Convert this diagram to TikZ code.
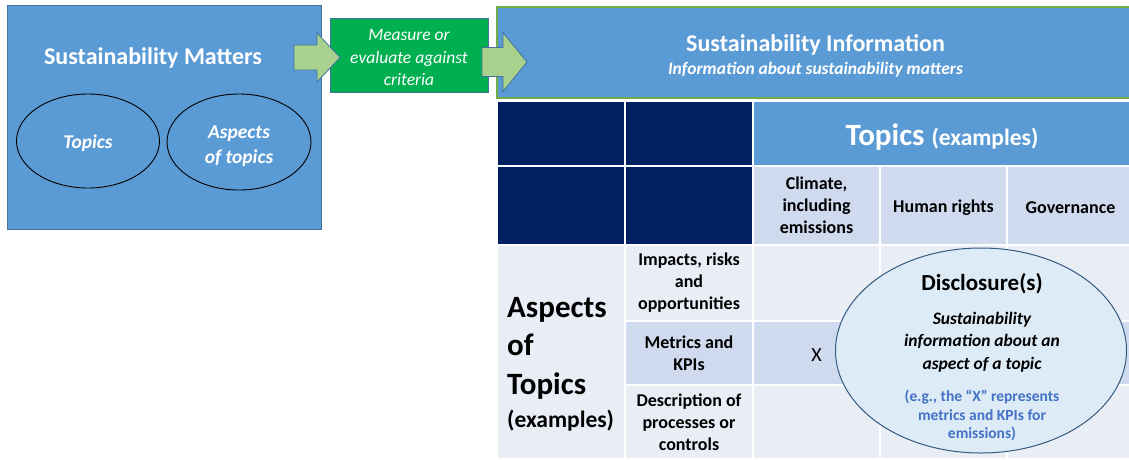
\documentclass[tikz,border=0pt]{standalone}
\usepackage{fontspec}
\setmainfont{Carlito}
\usepackage{tikz}
\usetikzlibrary{shapes.geometric}
\definecolor{matterblue}{HTML}{5B9BD5}
\definecolor{edgeblue}{HTML}{41719C}
\definecolor{navy}{HTML}{002060}
\definecolor{palecell}{HTML}{E9EDF6}
\definecolor{midcell}{HTML}{CFDAEE}
\definecolor{measuregreen}{HTML}{00B050}
\definecolor{arrowgreen}{HTML}{A9D18E}
\definecolor{headgreen}{HTML}{70AD47}
\definecolor{discfill}{HTML}{DDEBF7}
\definecolor{noteblue}{HTML}{4472C4}

\begin{document}
\begin{tikzpicture}[x=1pt,y=-1pt]
    \tikzstyle{every node}+=[inner sep=0pt]
    \tikzstyle{cell}=[rectangle, draw=white, line width=2pt, align=center,
        font=\bfseries\fontsize{18}{22}\selectfont]
    \tikzstyle{celltext}=[align=center, font=\bfseries\fontsize{18}{22}\selectfont]
    \tikzstyle{blockarrow}=[fill=arrowgreen, draw=edgeblue, line width=0.8pt, line join=miter]
    \tikzstyle{oval}=[ellipse, draw=black, line width=0.9pt]
    \tikzstyle{ovaltext}=[text=white, align=center, font=\bfseries\itshape\fontsize{19.5}{25}\selectfont]
    \useasboundingbox (0,0) rectangle (1129,459);
    % left box
    \node [rectangle, fill=matterblue, draw=edgeblue, line width=1pt,
        minimum width=314, minimum height=224] (matters) at (164,117) {};
    \node [text=white, font=\bfseries\fontsize{24}{28}\selectfont] (mattersTitle) at (153,58) {Sustainability Matters};
    \node [oval, minimum width=143, minimum height=94] (topicsOval) at (88,141) {};
    \node [ovaltext] (topicsText) at (88,143) {Topics};
    \node [oval, minimum width=144, minimum height=96] (aspectsOval) at (239,142) {};
    \node [ovaltext] (aspectsOvalText) at (239,146) {Aspects\\of topics};
    % measure box
    \node [rectangle, fill=measuregreen, draw=edgeblue, line width=0.8pt,
        minimum width=158, minimum height=74] (measure) at (409,55) {};
    \node [text=white, align=center, font=\itshape\fontsize{17.5}{22.5}\selectfont] (measureText) at (409,57.5)
        {Measure or\\evaluate against\\criteria};
    % information header
    \node [rectangle, fill=matterblue, draw=headgreen, line width=1.5pt,
        minimum width=637, minimum height=91] (info) at (815.5,52.5) {};
    \node [text=white, font=\bfseries\fontsize{24}{28}\selectfont] (infoTitle) at (815.5,45) {Sustainability Information};
    \node [text=white, font=\bfseries\itshape\fontsize{17.5}{21}\selectfont] (infoSub) at (815.5,70) {Information about sustainability matters};
    % arrows
    \coordinate (arrowA) at (294,57.5);
    \coordinate (arrowB) at (482,62);
    \draw [blockarrow] (arrowA) ++(0,-12.5) -- ++(23,0) -- ++(0,-12) -- ++(23,24.5)
        -- ++(-23,24.5) -- ++(0,-12) -- ++(-23,0) -- cycle;
    \draw [blockarrow] (arrowB) ++(0,-14.5) -- ++(21,0) -- ++(0,-15) -- ++(24,29.5)
        -- ++(-24,29.5) -- ++(0,-15) -- ++(-21,0) -- cycle;
    % table, first two rows
    \node [cell, fill=navy, minimum width=128, minimum height=65] (blankA) at (561,133.5) {};
    \node [cell, fill=navy, minimum width=128, minimum height=65] (blankB) at (689,133.5) {};
    \node [cell, fill=matterblue, minimum width=381, minimum height=65] (topicsHead) at (943.5,133.5) {};
    \node [celltext, text=white] (topicsHeadText) at (942,137.5)
        {\fontsize{31}{36}\selectfont Topics \fontsize{23.5}{28}\selectfont(examples)};
    \node [cell, fill=navy, minimum width=128, minimum height=79] (blankC) at (561,205.5) {};
    \node [cell, fill=navy, minimum width=128, minimum height=79] (blankD) at (689,205.5) {};
    \node [cell, fill=midcell, minimum width=127, minimum height=79] (climate) at (816.5,205.5) {Climate,\\including\\emissions};
    \node [cell, fill=midcell, minimum width=127, minimum height=79] (rights) at (943.5,205.5) {};
    \node [celltext] (rightsText) at (943.5,207.5) {Human rights};
    \node [cell, fill=midcell, minimum width=127, minimum height=79] (governance) at (1070.5,205.5) {};
    \node [celltext] (governanceText) at (1070.5,207.5) {Governance};
    % table, aspects rows
    \node [cell, fill=palecell, minimum width=128, minimum height=214] (aspectsHead) at (561,352) {};
    \node [anchor=west, align=left, font=\bfseries\fontsize{31}{38.5}\selectfont] (aspectsText) at (507,364)
        {Aspects\\of\\Topics\\[-5.5pt]{\fontsize{23.5}{28}\selectfont(examples)}};
    \node [cell, fill=palecell, minimum width=128, minimum height=76] (impacts) at (689,283) {Impacts, risks\\and\\opportunities};
    \node [cell, fill=palecell, minimum width=127, minimum height=76] (impactsA) at (816.5,283) {};
    \node [cell, fill=palecell, minimum width=127, minimum height=76] (impactsB) at (943.5,283) {};
    \node [cell, fill=palecell, minimum width=127, minimum height=76] (impactsC) at (1070.5,283) {};
    \node [cell, fill=midcell, minimum width=128, minimum height=64] (metrics) at (689,353) {Metrics and\\KPIs};
    \node [cell, fill=midcell, minimum width=127, minimum height=64] (metricsA) at (816.5,353) {};
    \node [font=\fontsize{20}{24}\selectfont] (metricsX) at (816.5,355) {X};
    \node [cell, fill=midcell, minimum width=127, minimum height=64] (metricsB) at (943.5,353) {};
    \node [cell, fill=midcell, minimum width=127, minimum height=64] (metricsC) at (1070.5,353) {};
    \node [cell, fill=palecell, minimum width=128, minimum height=74] (processes) at (689,422) {Description of\\processes or\\controls};
    \node [cell, fill=palecell, minimum width=127, minimum height=74] (processesA) at (816.5,422) {};
    \node [cell, fill=palecell, minimum width=127, minimum height=74] (processesB) at (943.5,422) {};
    \node [cell, fill=palecell, minimum width=127, minimum height=74] (processesC) at (1070.5,422) {};
    % disclosure
    \node [ellipse, fill=discfill, draw=edgeblue!80!black, line width=1pt,
        minimum width=291, minimum height=205] (disc) at (981,350.5) {};
    \node [font=\bfseries\fontsize{23}{27}\selectfont] (discTitle) at (982,284) {Disclosure(s)};
    \node [align=center, font=\bfseries\itshape\fontsize{17.5}{22.5}\selectfont] (discText) at (982,342)
        {Sustainability\\information about an\\aspect of a topic};
    \node [align=center, text=noteblue, font=\bfseries\fontsize{15.5}{18.5}\selectfont] (discNote) at (982,415.5)
        {(e.g., the “X” represents\\metrics and KPIs for\\emissions)};
\end{tikzpicture}
\end{document}
